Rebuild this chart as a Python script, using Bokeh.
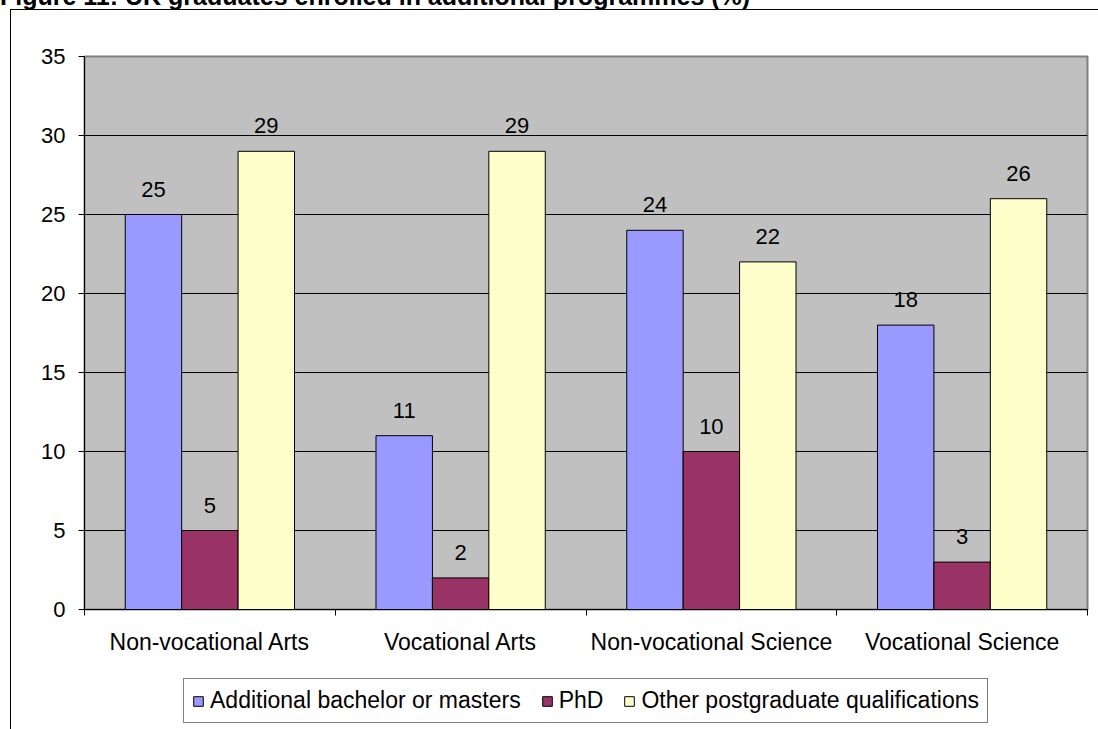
from bokeh.plotting import figure
from bokeh.layouts import column
from bokeh.models import (ColumnDataSource, Range1d, FixedTicker, LabelSet, Div,
                          Legend, LegendItem, InlineStyleSheet)
from bokeh.core.properties import value
from bokeh.embed import file_html
from bokeh.resources import INLINE
import numpy as np

# Survey results: share of UK graduates enrolled in further study (%)
categories = ["Non-vocational Arts", "Vocational Arts", "Non-vocational Science", "Vocational Science"]
series_names = ["Additional bachelor or masters", "PhD", "Other postgraduate qualifications"]
bachelor_masters = [25, 11, 24, 18]
phd = [5, 2, 10, 3]
other_postgrad = [29, 29, 22, 26]
y_ticks = [0, 5, 10, 15, 20, 25, 30, 35]
title_text = "Figure 11: UK graduates enrolled in additional programmes (%)"

series_values = [bachelor_masters, phd, other_postgrad]
series_colors = ["#9999FF", "#993366", "#FFFFCC"]

FONT = "Liberation Sans"
W = 1098
TITLE_H, MAIN_H, LEGEND_H = 10, 660, 59
LEFT, RIGHT = 84, 11

# ---- heading (runs off the top edge of the page) ----
heading = Div(width=W, height=TITLE_H, margin=0,
              text=('<div style="position:absolute; top:-18px; left:0; white-space:nowrap; '
                    f"font-family:'{FONT}'; font-weight:bold; font-size:25px; color:#000; "
                    f'line-height:normal">{title_text}</div>'))

# ---- main chart ----
p = figure(width=W, height=MAIN_H, output_backend="svg", toolbar_location=None,
           x_range=Range1d(0, len(categories)), y_range=Range1d(0, 35),
           min_border_left=LEFT, min_border_right=RIGHT,
           min_border_top=46, min_border_bottom=61,
           background_fill_color="#C0C0C0",
           border_fill_alpha=0,
           outline_line_color="#808080", outline_line_width=2)

# y axis
p.yaxis.ticker = FixedTicker(ticks=y_ticks)
p.yaxis.major_tick_out = 6
p.yaxis.major_tick_in = 0
p.yaxis.minor_tick_line_color = None
p.yaxis.axis_line_color = "black"
p.yaxis.major_label_standoff = 13
p.yaxis.major_label_text_font = FONT
p.yaxis.major_label_text_font_size = "22px"
p.yaxis.major_label_text_color = "black"

# x axis: labels at group centres, tick marks at group boundaries
centers = np.arange(len(categories)) + 0.5
p.xaxis.ticker = FixedTicker(ticks=list(centers),
                             minor_ticks=list(range(len(categories) + 1)))
p.xaxis.major_label_overrides = {float(c): name for c, name in zip(centers, categories)}
p.xaxis.major_tick_line_color = None
p.xaxis.minor_tick_out = 6
p.xaxis.minor_tick_in = 0
p.xaxis.minor_tick_line_color = "black"
p.xaxis.axis_line_color = "black"
p.xaxis.major_label_standoff = 13
p.xaxis.major_label_text_font = FONT
p.xaxis.major_label_text_font_size = "23px"
p.xaxis.major_label_text_color = "black"

p.xgrid.grid_line_color = None
p.ygrid.ticker = FixedTicker(ticks=y_ticks)
p.ygrid.grid_line_color = "black"
p.ygrid.grid_line_width = 1

# grouped bars with value labels
bar_w = 0.225
offsets = [-bar_w, 0.0, bar_w]
for vals, color, off in zip(series_values, series_colors, offsets):
    src = ColumnDataSource(dict(x=centers + off, top=vals, label=[str(v) for v in vals]))
    p.vbar(x="x", top="top", width=bar_w, bottom=0, source=src,
           fill_color=color, line_color="black", line_width=1)
    p.add_layout(LabelSet(x="x", y="top", text="label", source=src,
                          text_align="center", text_baseline="alphabetic",
                          y_offset=18, text_font=value(FONT), text_font_size=value("22px"),
                          text_color="black"))

# ---- legend strip (its plot area lines up with the chart's) ----
leg = figure(width=W, height=LEGEND_H, output_backend="svg", toolbar_location=None,
             x_range=Range1d(0, 1), y_range=Range1d(0, 1),
             x_axis_location=None, y_axis_location=None,
             min_border=0, border_fill_alpha=0, background_fill_alpha=0,
             outline_line_color=None)
leg.grid.visible = False
legend_items = []
for name, color in zip(series_names, series_colors):
    # tiny swatch proxies, tucked underneath the legend box
    r = leg.vbar(x=[0.5], bottom=[0.48], top=[0.52], width=0.002, fill_color=color,
                 line_color="black", line_width=1)
    legend_items.append(LegendItem(label=name, renderers=[r]))
legend = Legend(items=legend_items, orientation="horizontal",
                location=(183 - LEFT, 6), glyph_width=12, glyph_height=12,
                label_standoff=6, spacing=20, padding=8, margin=0,
                label_text_font=FONT, label_text_font_size="23px",
                label_text_color="black",
                border_line_color="black", border_line_width=1,
                background_fill_color="white", background_fill_alpha=1)
leg.add_layout(legend, "center")

page = column(heading, p, leg, spacing=0, margin=0)
page.styles = {"background": "#fff"}
# page rules along the top and left edge
page.stylesheets = [InlineStyleSheet(css=(
    ":host::after { content: ''; position: absolute; left: 10px; top: 9px; "
    "width: 1088px; height: 720px; box-sizing: border-box; "
    "border-top: 1.5px solid #000; border-left: 1.5px solid #000; "
    "pointer-events: none; }"))]

open("out.html", "w").write(file_html(page, INLINE))
